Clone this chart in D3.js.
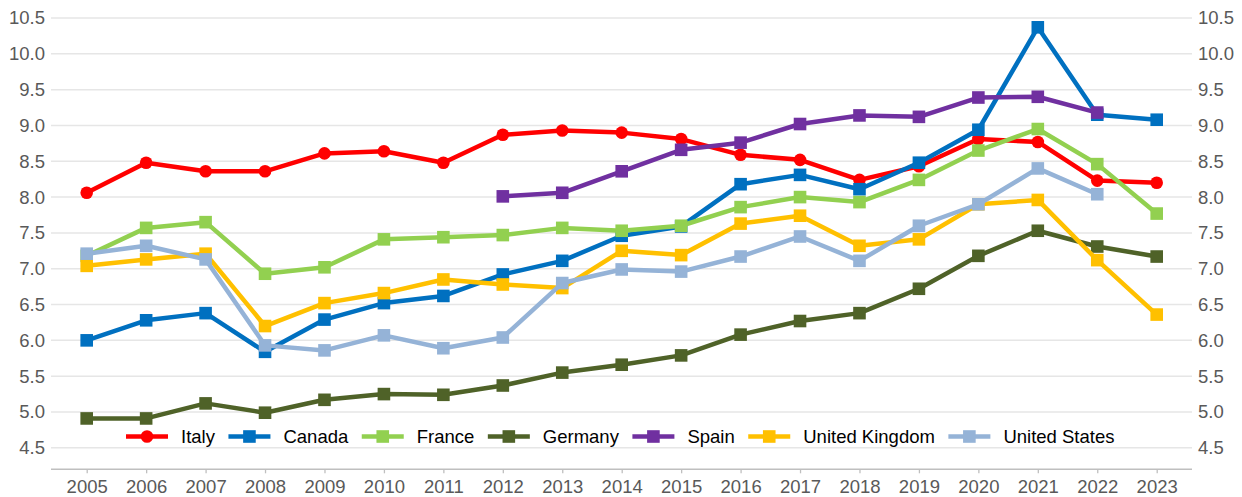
<!DOCTYPE html>
<html>
<head>
<meta charset="utf-8">
<script src="https://cdn.jsdelivr.net/npm/d3@7"></script>
<style>
  body { margin: 0; background: #fff; }
  text { font-family: "Liberation Sans", Arial, sans-serif; }
</style>
</head>
<body>
<div id="chart"></div>
<script>
// Data
var years = d3.range(2005, 2024);
var yTicks = [4.5, 5.0, 5.5, 6.0, 6.5, 7.0, 7.5, 8.0, 8.5, 9.0, 9.5, 10.0, 10.5];

var italy   = [8.06, 8.48, 8.36, 8.36, 8.61, 8.64, 8.48, 8.87, 8.93, 8.90, 8.81, 8.59, 8.52, 8.24, 8.43, 8.81, 8.77, 8.23, 8.20];
var canada  = [6.00, 6.28, 6.38, 5.84, 6.29, 6.52, 6.62, 6.92, 7.11, 7.46, 7.59, 8.18, 8.31, 8.11, 8.48, 8.94, 10.37, 9.15, 9.08];
var france  = [7.18, 7.57, 7.65, 6.93, 7.02, 7.41, 7.44, 7.47, 7.57, 7.53, 7.60, 7.86, 8.00, 7.93, 8.24, 8.65, 8.95, 8.46, 7.77];
var germany = [4.91, 4.91, 5.12, 4.99, 5.17, 5.25, 5.24, 5.37, 5.55, 5.66, 5.79, 6.08, 6.27, 6.38, 6.72, 7.18, 7.53, 7.31, 7.17];
var spain   = [null, null, null, null, null, null, null, 8.01, 8.06, 8.36, 8.66, 8.76, 9.02, 9.14, 9.12, 9.39, 9.40, 9.18, null];
var uk      = [7.04, 7.13, 7.21, 6.20, 6.52, 6.66, 6.85, 6.78, 6.73, 7.25, 7.19, 7.63, 7.74, 7.32, 7.41, 7.90, 7.96, 7.12, 6.36];
var us      = [7.21, 7.32, 7.13, 5.93, 5.86, 6.07, 5.89, 6.04, 6.80, 6.99, 6.96, 7.17, 7.45, 7.11, 7.60, 7.90, 8.40, 8.04, null];

var series = [
    {name: "Italy",          values: italy,   color: "#FF0000", marker: "circle"},
    {name: "Canada",         values: canada,  color: "#0070C0", marker: "square"},
    {name: "France",         values: france,  color: "#92D050", marker: "square"},
    {name: "Germany",        values: germany, color: "#4F6228", marker: "square"},
    {name: "Spain",          values: spain,   color: "#7030A0", marker: "square"},
    {name: "United Kingdom", values: uk,      color: "#FFC000", marker: "square"},
    {name: "United States",  values: us,      color: "#95B3D7", marker: "square"}
];

// Canvas
var width = 1242, height = 497;
var plotLeft = 51, plotRight = 1192, plotBottom = 469.3;
var fontSize = "18.5px";

var svg = d3.select("#chart").append("svg")
    .attr("width", width)
    .attr("height", height);

// Scales
var x = d3.scalePoint()
    .domain(years)
    .range([86.7, 1156.7]);

var y = d3.scaleLinear()
    .domain([4.2, 10.5])
    .range([plotBottom, 18]);

// Gridlines
svg.append("g").selectAll("line")
    .data(yTicks)
    .join("line")
        .attr("x1", plotLeft)
        .attr("x2", plotRight)
        .attr("y1", d => y(d))
        .attr("y2", d => y(d))
        .style("stroke", "#e6e6e6")
        .style("stroke-width", 1.5);

// Y labels, left and right
var fmt = d3.format(".1f");
svg.append("g").selectAll("text")
    .data(yTicks)
    .join("text")
        .attr("x", 45)
        .attr("y", d => y(d))
        .attr("dy", "0.35em")
        .attr("text-anchor", "end")
        .style("font-size", fontSize)
        .style("fill", "#595959")
        .text(fmt);

svg.append("g").selectAll("text")
    .data(yTicks)
    .join("text")
        .attr("x", 1198)
        .attr("y", d => y(d))
        .attr("dy", "0.35em")
        .attr("text-anchor", "start")
        .style("font-size", fontSize)
        .style("fill", "#595959")
        .text(fmt);

// X axis
var xAxis = svg.append("g")
    .attr("transform", "translate(0," + plotBottom + ")")
    .call(d3.axisBottom(x).tickSize(4).tickPadding(7).tickSizeOuter(0));
xAxis.select(".domain").remove();
xAxis.append("line")
    .attr("x1", plotLeft)
    .attr("x2", plotRight)
    .style("stroke", "#bfbfbf")
    .style("stroke-width", 1.5);
xAxis.selectAll(".tick line").style("stroke", "#bfbfbf").style("stroke-width", 1.3);
xAxis.selectAll(".tick text")
    .style("font-family", "'Liberation Sans', Arial, sans-serif")
    .style("font-size", fontSize)
    .style("fill", "#595959");

// Lines and markers
var line = d3.line()
    .defined(d => d.v != null)
    .x(d => x(d.year))
    .y(d => y(d.v));

function drawMarker(g, s, cx, cy) {
    if (s.marker === "circle") {
        g.append("circle")
            .attr("cx", cx).attr("cy", cy).attr("r", 6.3)
            .style("fill", s.color);
    } else {
        g.append("rect")
            .attr("x", cx - 6.3).attr("y", cy - 6.3)
            .attr("width", 12.6).attr("height", 12.6)
            .style("fill", s.color);
    }
}

series.forEach(function(s) {
    var pts = years.map((yr, i) => ({year: yr, v: s.values[i]}));
    var g = svg.append("g");
    g.append("path")
        .datum(pts)
        .attr("d", line)
        .style("fill", "none")
        .style("stroke", s.color)
        .style("stroke-width", 4.5)
        .style("stroke-linejoin", "round");
    pts.filter(d => d.v != null).forEach(function(d) {
        drawMarker(g, s, x(d.year), y(d.v));
    });
});

// Legend
var legend = svg.append("g");
var lx = 126, ly = 436.5;
series.forEach(function(s) {
    var item = legend.append("g").attr("transform", "translate(" + lx + "," + ly + ")");
    item.append("line")
        .attr("x1", 0).attr("x2", 42)
        .style("stroke", s.color)
        .style("stroke-width", 4.5);
    drawMarker(item, s, 21, 0);
    var t = item.append("text")
        .attr("x", 55)
        .attr("dy", "0.35em")
        .style("font-size", fontSize)
        .style("fill", "#000")
        .text(s.name);
    lx += 55 + t.node().getComputedTextLength() + 13.5;
});
</script>
</body>
</html>
